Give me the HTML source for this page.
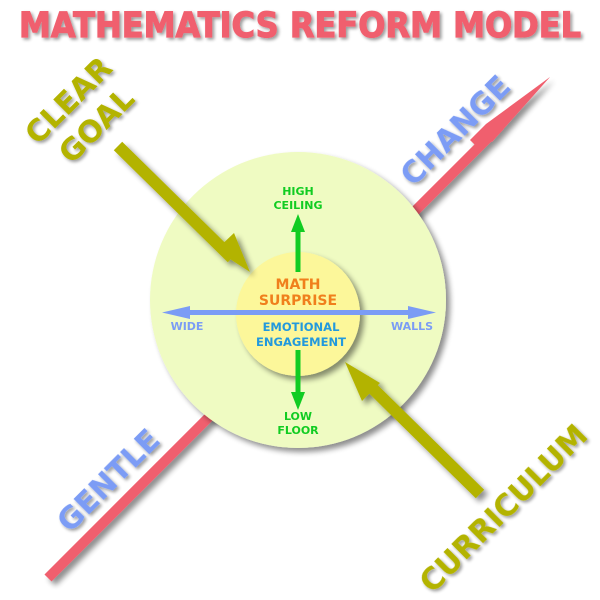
<!DOCTYPE html>
<html><head><style>body{margin:0;background:#fff}svg{display:block}</style></head><body>
<svg width="600" height="600" viewBox="0 0 600 600" font-family="'DejaVu Sans','Liberation Sans',sans-serif" font-weight="bold">
<defs>
<filter id="sh" x="-20%" y="-20%" width="150%" height="150%"><feGaussianBlur in="SourceAlpha" stdDeviation="3"/><feOffset dx="4" dy="4"/><feComponentTransfer><feFuncA type="linear" slope="0.45"/></feComponentTransfer><feMerge><feMergeNode/><feMergeNode in="SourceGraphic"/></feMerge></filter>
<filter id="ts" x="-10%" y="-20%" width="130%" height="150%"><feGaussianBlur in="SourceAlpha" stdDeviation="1.5"/><feOffset dx="2" dy="2"/><feComponentTransfer><feFuncA type="linear" slope="0.4"/></feComponentTransfer><feMerge><feMergeNode/><feMergeNode in="SourceGraphic"/></feMerge></filter>
</defs>
<text x="300" y="37" text-anchor="middle" font-size="35" fill="#f05f6e" stroke="#f05f6e" stroke-width="1.2" textLength="562" lengthAdjust="spacingAndGlyphs" filter="url(#ts)">MATHEMATICS REFORM MODEL</text>
<g filter="url(#sh)">
<line x1="48" y1="578" x2="500" y2="126" stroke="#f05f6e" stroke-width="10"/>
<polygon points="550,77 476,146 470,140 486,124" fill="#f05f6e"/>
<polygon points="550,77 480,132 492,142" fill="#f05f6e"/>
</g>
<circle cx="298" cy="300" r="148" fill="#effbc2" filter="url(#sh)"/>
<circle cx="298" cy="314" r="62" fill="#fcf79a" filter="url(#sh)"/>
<g fill="#b3b300" filter="url(#sh)">
<line x1="118" y1="146" x2="232" y2="258" stroke="#b3b300" stroke-width="12"/>
<polygon points="250,272 216,250 234,233"/>
<line x1="480" y1="494" x2="364" y2="380" stroke="#b3b300" stroke-width="12"/>
<polygon points="345,362 380,383 362,401"/>
</g>
<g fill="#7b9cf5">
<rect x="180" y="310" width="238" height="5"/>
<polygon points="162,312.5 190,306 190,319"/>
<polygon points="436,312.5 408,306 408,319"/>
</g>
<g fill="#11cc22">
<rect x="295.5" y="228" width="5" height="44"/>
<polygon points="298,214 291,232 305,232"/>
<rect x="295.5" y="350" width="5" height="46"/>
<polygon points="298,410 291,392 305,392"/>
</g>
<g font-size="11" text-anchor="middle" fill="#11cc22">
<text x="298" y="195">HIGH</text><text x="298" y="209">CEILING</text>
<text x="298" y="420">LOW</text><text x="298" y="434">FLOOR</text>
</g>
<g font-size="14" text-anchor="middle" fill="#f07f1c">
<text x="298" y="289">MATH</text><text x="298" y="305">SURPRISE</text>
</g>
<g font-size="11.5" text-anchor="middle" fill="#2299dd">
<text x="301" y="331">EMOTIONAL</text><text x="301" y="346">ENGAGEMENT</text>
</g>
<g font-size="11" text-anchor="middle" fill="#7b9cf5">
<text x="187" y="330">WIDE</text><text x="412" y="330">WALLS</text>
</g>
<g font-size="30" text-anchor="middle" filter="url(#ts)">
<text transform="translate(68,100) rotate(-45)" fill="#b3b300" dy="11">CLEAR</text>
<text transform="translate(96,125) rotate(-45)" fill="#b3b300" dy="11">GOAL</text>
<text transform="translate(455,130) rotate(-45)" fill="#7b9cf5" dy="11">CHANGE</text>
<text transform="translate(108,480) rotate(-45)" fill="#7b9cf5" dy="11">GENTLE</text>
<text transform="translate(503,508) rotate(-45)" fill="#b3b300" dy="11">CURRICULUM</text>
</g>
</svg>
</body></html>
